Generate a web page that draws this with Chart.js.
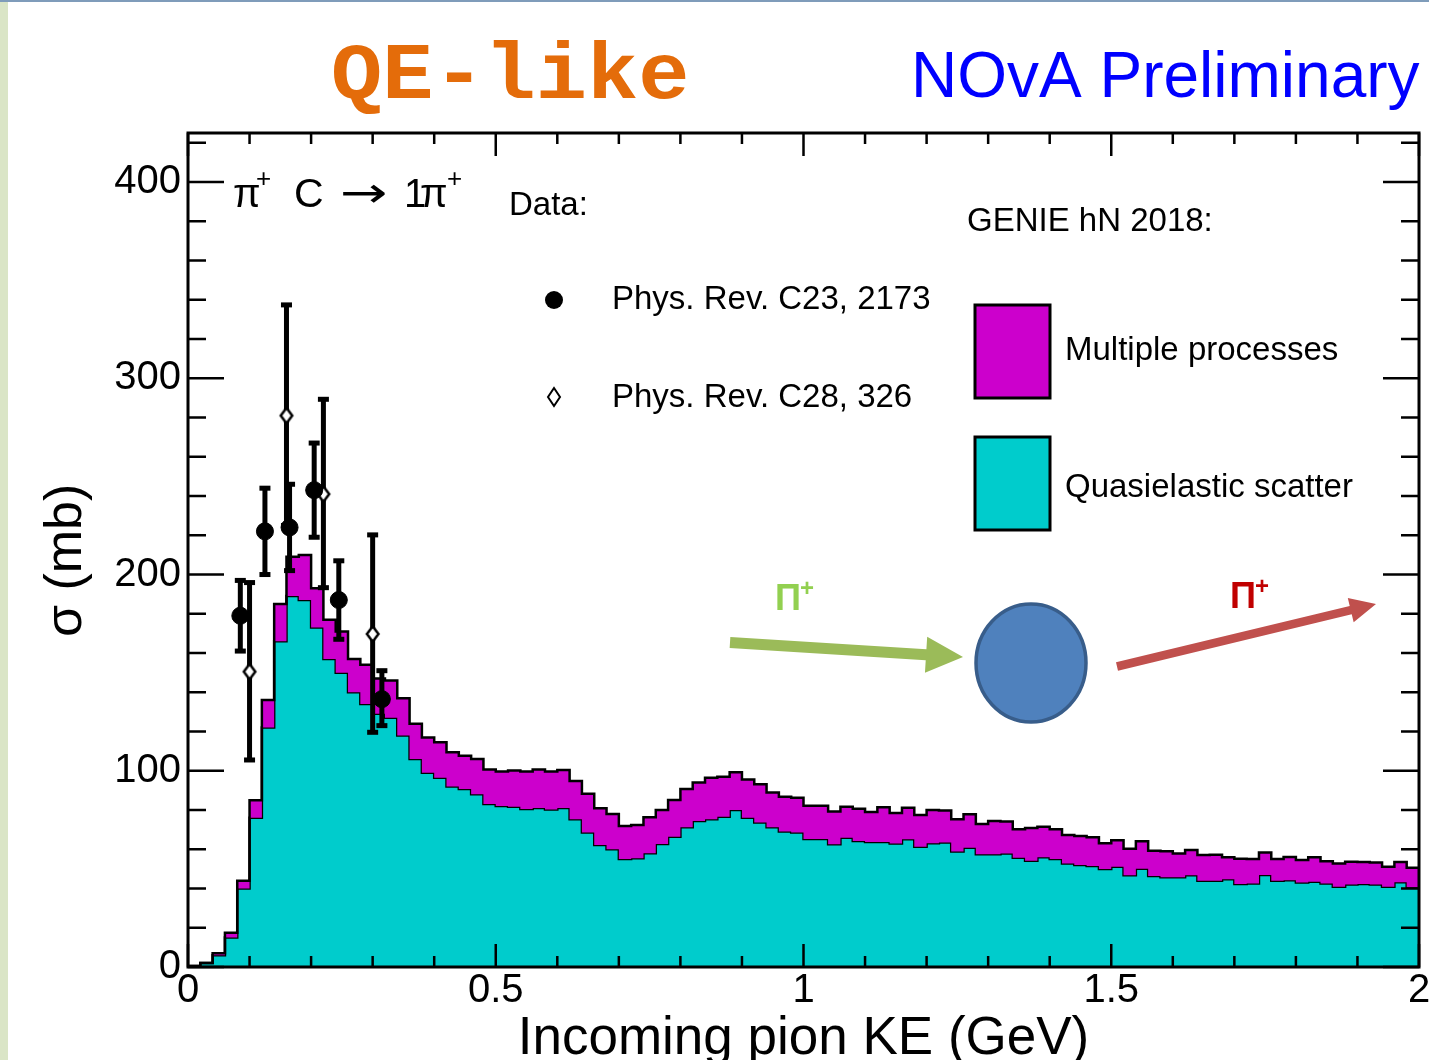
<!DOCTYPE html>
<html>
<head>
<meta charset="utf-8">
<script src="https://cdn.jsdelivr.net/npm/chart.js@4.4.0/dist/chart.umd.min.js"></script>
<style>
html,body{margin:0;padding:0;background:#fff;overflow:hidden}
#wrap{position:relative;width:1429px;height:1060px}
canvas{display:block}
</style>
</head>
<body>
<div id="wrap"><canvas id="c" width="1429" height="1060"></canvas></div>
<script>
// ---------------- data ----------------
const binWidth = 0.02;           // GeV, 100 bins from 0 to 2
const xRange = [0, 2];
const yRange = [0, 425];
const xTickLabels = [0, 0.5, 1, 1.5, 2];
const yTickLabels = [0, 100, 200, 300, 400];

// GENIE hN 2018 – quasielastic scatter (cyan), per bin
const qeSigma = [
  0.5, 2, 6, 15, 40, 76, 122, 166, 189, 187,
  173, 157, 150, 140, 134, 129, 127, 118, 106, 99,
  96.5, 92, 90.7, 88, 83, 82, 81.7, 80.5, 81, 80.3,
  81, 75.3, 68.5, 62.2, 60, 55, 55.4, 58, 62.7, 66.4,
  71.2, 74.4, 75.3, 76.6, 80, 76.1, 73.6, 71.2, 69, 68.5,
  65.2, 65.2, 62.5, 65.9, 64.2, 63.7, 63.7, 62.9, 65.1, 61.3,
  63.1, 63.4, 58.8, 60.8, 57.4, 57.4, 57.9, 55.7, 54.2, 55.9,
  55, 52.8, 52, 51.5, 49.9, 51.1, 46.7, 50.1, 46.4, 45.7,
  45.7, 46.7, 44, 43.9, 44.7, 42.3, 42.6, 46.9, 43.9, 44.2,
  43, 43.4, 42.6, 40.9, 42.1, 42.3, 42, 40.9, 43.2, 40.6
];
// GENIE hN 2018 – total incl. multiple processes (magenta top), per bin
const totalSigma = [
  0.5, 2, 7, 17.5, 44, 85, 136, 185, 209, 210,
  193, 177, 171, 157, 154, 147, 146, 137, 124, 117,
  114.5, 109.4, 107.7, 106, 100.7, 99.6, 100.1, 99.6, 100.7, 99.6,
  100.4, 94.8, 88.3, 80.9, 78, 71.9, 72.4, 76.3, 80, 85.1,
  90.7, 94, 96.5, 97, 99.2, 95.6, 93.1, 88.9, 86.8, 86.3,
  82.2, 82.2, 79.2, 81.7, 80.7, 79, 81.4, 78.5, 81.2, 77.5,
  80, 79.7, 75.3, 77.8, 72.9, 74.4, 74.1, 70.2, 70.8, 71.5,
  70.2, 67.3, 66.8, 66.1, 63, 64.6, 60.3, 64.1, 59.3, 59,
  57.9, 59.6, 57.1, 57.2, 55.9, 55.2, 55, 58.3, 55, 56.1,
  54.5, 55.9, 53.9, 52.8, 53.6, 53.5, 53.2, 51.1, 53.5, 50.6
];

// Phys. Rev. C23, 2173 (filled circles)
const prc23KE    = [0.085, 0.125, 0.165, 0.205, 0.245, 0.315];
const prc23Sigma = [179, 222, 224, 243, 187, 136.5];
const prc23Lo    = [161, 200, 202, 219, 167, 123];
const prc23Hi    = [197, 244, 246, 267, 207, 151];

// Phys. Rev. C28, 326 (open diamonds)
const prc28KE    = [0.100, 0.160, 0.220, 0.300];
const prc28Sigma = [150.5, 281, 241, 169.7];
const prc28Lo    = [105.5, 225, 193.3, 119.6];
const prc28Hi    = [195.9, 337.4, 289.3, 220.2];

// ---------------- helpers ----------------
const FONT = "'Liberation Sans', Arial, Helvetica, sans-serif";

function histPoints(vals) {
  const pts = vals.map((v, i) => ({x: i * binWidth, y: v}));
  pts.push({x: vals.length * binWidth, y: vals[vals.length - 1]});
  return pts;
}
function pointsOf(xs, ys) { return xs.map((x, i) => ({x: x, y: ys[i]})); }

function makeDiamond(w, h, lw) {
  const c = document.createElement('canvas');
  c.width = w + 4; c.height = h + 4;
  const g = c.getContext('2d');
  const cx = c.width / 2, cy = c.height / 2;
  const hw = w / 2 - lw / 2, hh = h / 2 - lw / 2;
  g.beginPath();
  g.moveTo(cx, cy - hh); g.lineTo(cx + hw, cy); g.lineTo(cx, cy + hh); g.lineTo(cx - hw, cy); g.closePath();
  g.fillStyle = '#fff'; g.fill();
  g.lineWidth = lw; g.strokeStyle = '#000'; g.lineJoin = 'miter'; g.stroke();
  return c;
}
const diamondImg = makeDiamond(14, 18, 2.5);

function arrow(ctx, x1, y1, x2, y2, shaftW, headLen, headW, color) {
  const dx = x2 - x1, dy = y2 - y1, L = Math.hypot(dx, dy);
  const ux = dx / L, uy = dy / L, nx = -uy, ny = ux;
  const bx = x2 - ux * headLen, by = y2 - uy * headLen;
  ctx.save();
  ctx.fillStyle = color;
  ctx.beginPath();
  ctx.moveTo(x1 + nx * shaftW / 2, y1 + ny * shaftW / 2);
  ctx.lineTo(bx + nx * shaftW / 2, by + ny * shaftW / 2);
  ctx.lineTo(bx + nx * headW / 2, by + ny * headW / 2);
  ctx.lineTo(x2, y2);
  ctx.lineTo(bx - nx * headW / 2, by - ny * headW / 2);
  ctx.lineTo(bx - nx * shaftW / 2, by - ny * shaftW / 2);
  ctx.lineTo(x1 - nx * shaftW / 2, y1 - ny * shaftW / 2);
  ctx.closePath();
  ctx.fill();
  ctx.restore();
}
function txt(ctx, s, x, y, size, color, weight, family) {
  ctx.font = (weight || 'normal') + ' ' + size + 'px ' + (family || FONT);
  ctx.fillStyle = color || '#000';
  ctx.textAlign = 'left';
  ctx.textBaseline = 'alphabetic';
  ctx.fillText(s, x, y);
}

// ---------------- plugins ----------------
const background = {
  id: 'background',
  beforeDraw(chart) {
    const ctx = chart.ctx;
    ctx.save();
    ctx.fillStyle = '#ffffff';
    ctx.fillRect(0, 0, chart.width, chart.height);
    ctx.fillStyle = '#dae5c6';
    ctx.fillRect(0, 0, 8, chart.height);
    ctx.fillStyle = '#7f9cba';
    ctx.fillRect(0, 0, chart.width, 2);
    ctx.restore();
  }
};

const errorBars = {
  id: 'errorBars',
  beforeDatasetDraw(chart, args) {
    const ds = chart.data.datasets[args.index];
    if (!ds.errLo) return;
    const ctx = chart.ctx, xs = chart.scales.x, ys = chart.scales.y;
    ctx.save();
    ctx.strokeStyle = '#000';
    ctx.fillStyle = '#000';
    ctx.lineWidth = 5;
    ds.data.forEach((p, i) => {
      const px = xs.getPixelForValue(p.x);
      const yl = ys.getPixelForValue(ds.errLo[i]);
      const yh = ys.getPixelForValue(ds.errHi[i]);
      ctx.beginPath(); ctx.moveTo(px, yl); ctx.lineTo(px, yh); ctx.stroke();
      ctx.fillRect(px - 5.5, yl - 2.5, 11, 5);
      ctx.fillRect(px - 5.5, yh - 2.5, 11, 5);
    });
    ctx.restore();
  }
};

const frame = {
  id: 'frame',
  afterDatasetsDraw(chart) {
    const ctx = chart.ctx, a = chart.chartArea, xs = chart.scales.x, ys = chart.scales.y;
    ctx.save();
    ctx.strokeStyle = '#000';
    ctx.lineCap = 'butt';
    ctx.lineWidth = 2.5;
    ctx.beginPath();
    for (let k = 0; k <= 20; k++) {
      const v = k * 0.1;
      const px = xs.getPixelForValue(v);
      const L = (k % 5 === 0) ? 23 : 11;
      ctx.moveTo(px, a.bottom); ctx.lineTo(px, a.bottom - L);
      ctx.moveTo(px, a.top); ctx.lineTo(px, a.top + L);
    }
    for (let k = 0; k <= 21; k++) {
      const v = k * 20;
      const py = ys.getPixelForValue(v);
      const L = (k % 5 === 0) ? 36 : 18;
      ctx.moveTo(a.left, py); ctx.lineTo(a.left + L, py);
      ctx.moveTo(a.right, py); ctx.lineTo(a.right - L, py);
    }
    ctx.stroke();
    ctx.lineWidth = 3;
    ctx.strokeRect(a.left, a.top, a.right - a.left, a.bottom - a.top);
    ctx.restore();
  }
};

const annotations = {
  id: 'annotations',
  afterDraw(chart) {
    const ctx = chart.ctx;
    ctx.save();
    // Titles
    ctx.save();
    ctx.translate(331, 98);
    ctx.scale(1.08, 1);
    txt(ctx, 'QE-like', 0, 0, 79, '#e46c0a', 'bold', "'Liberation Mono', 'Courier New', monospace");
    ctx.restore();
    txt(ctx, 'NOvA Preliminary', 911, 97, 64, '#0000ff');

    // Reaction label
    txt(ctx, 'π', 233, 207, 40);
    txt(ctx, '+', 256, 187, 26);
    txt(ctx, 'C', 294, 207, 41);
    ctx.save();
    ctx.translate(340, 207);
    ctx.scale(1.35, 1);
    txt(ctx, '→', 0, 0, 42, '#000', 'normal', "'DejaVu Sans', sans-serif");
    ctx.restore();
    txt(ctx, '1', 404, 207, 40);
    txt(ctx, 'π', 420, 207, 40);
    txt(ctx, '+', 447, 187, 26);

    // Data legend
    txt(ctx, 'Data:', 509, 215, 33);
    ctx.beginPath(); ctx.arc(554, 300, 9, 0, Math.PI * 2); ctx.fillStyle = '#000'; ctx.fill();
    txt(ctx, 'Phys. Rev. C23, 2173', 612, 309, 33);
    ctx.beginPath();
    ctx.moveTo(554, 388); ctx.lineTo(560, 397); ctx.lineTo(554, 406); ctx.lineTo(548, 397); ctx.closePath();
    ctx.fillStyle = '#fff'; ctx.fill(); ctx.lineWidth = 2; ctx.strokeStyle = '#000'; ctx.stroke();
    txt(ctx, 'Phys. Rev. C28, 326', 612, 407, 33);

    // GENIE legend
    txt(ctx, 'GENIE hN 2018:', 967, 231, 33);
    ctx.lineWidth = 3; ctx.strokeStyle = '#000';
    ctx.fillStyle = '#cc00cc'; ctx.fillRect(975, 305, 75, 93); ctx.strokeRect(975, 305, 75, 93);
    ctx.fillStyle = '#00cccc'; ctx.fillRect(975, 437, 75, 93); ctx.strokeRect(975, 437, 75, 93);
    txt(ctx, 'Multiple processes', 1065, 360, 33);
    txt(ctx, 'Quasielastic scatter', 1065, 497, 33);

    // Scattering cartoon
    arrow(ctx, 730, 642.5, 963, 657, 11, 37, 36, '#9bbb59');
    ctx.beginPath(); ctx.ellipse(1031, 663, 55, 59, 0, 0, Math.PI * 2);
    ctx.fillStyle = '#4f81bd'; ctx.fill(); ctx.lineWidth = 3.5; ctx.strokeStyle = '#385d8a'; ctx.stroke();
    arrow(ctx, 1117, 666.5, 1376, 604, 8.5, 26, 25, '#c0504d');
    txt(ctx, 'Π', 775, 610, 36, '#92d050', 'bold');
    txt(ctx, '+', 800, 596, 24, '#92d050', 'bold');
    txt(ctx, 'Π', 1230, 608, 36, '#c00000', 'bold');
    txt(ctx, '+', 1255, 594, 24, '#c00000', 'bold');
    ctx.restore();
  }
};

// ---------------- chart ----------------
const ctx = document.getElementById('c').getContext('2d');
new Chart(ctx, {
  type: 'line',
  data: {
    datasets: [
      {
        label: 'Quasielastic scatter',
        data: histPoints(qeSigma),
        stepped: 'before',
        borderColor: '#000', borderWidth: 2.5,
        backgroundColor: '#00cccc',
        fill: 'origin',
        pointRadius: 0,
        order: 3
      },
      {
        label: 'Multiple processes',
        data: histPoints(totalSigma),
        stepped: 'before',
        borderColor: '#000', borderWidth: 2.5,
        backgroundColor: '#cc00cc',
        fill: 0,
        pointRadius: 0,
        order: 2
      },
      {
        label: 'Phys. Rev. C28, 326',
        data: pointsOf(prc28KE, prc28Sigma),
        errLo: prc28Lo, errHi: prc28Hi,
        showLine: false,
        pointStyle: diamondImg,
        pointRadius: 8,
        order: 1
      },
      {
        label: 'Phys. Rev. C23, 2173',
        data: pointsOf(prc23KE, prc23Sigma),
        errLo: prc23Lo, errHi: prc23Hi,
        showLine: false,
        pointStyle: 'circle',
        pointRadius: 8.5,
        pointBorderWidth: 1,
        pointBackgroundColor: '#000',
        pointBorderColor: '#000',
        order: 0
      }
    ]
  },
  options: {
    responsive: false,
    devicePixelRatio: 1,
    animation: false,
    events: [],
    layout: {padding: {left: 0, right: 10, top: 133, bottom: 0}},
    plugins: {legend: {display: false}, tooltip: {enabled: false}, title: {display: false}},
    scales: {
      x: {
        type: 'linear',
        min: xRange[0], max: xRange[1],
        grid: {display: false, drawTicks: false},
        border: {display: false},
        afterBuildTicks: s => { s.ticks = xTickLabels.map(v => ({value: v})); },
        afterFit: s => { s.height = 93; s.paddingLeft = 0; s.paddingRight = 0; },
        ticks: {
          autoSkip: false, maxRotation: 0, padding: 0,
          color: '#000', font: {family: FONT, size: 40},
          callback: v => String(v)
        },
        title: {
          display: true, text: 'Incoming pion KE (GeV)', color: '#000',
          font: {family: FONT, size: 53}, padding: {top: 0, bottom: -11}
        }
      },
      y: {
        type: 'linear',
        min: yRange[0], max: yRange[1],
        grid: {display: false, drawTicks: false},
        border: {display: false},
        afterBuildTicks: s => { s.ticks = yTickLabels.map(v => ({value: v})); },
        afterFit: s => { s.width = 188; s.paddingTop = 0; s.paddingBottom = 0; },
        ticks: {
          autoSkip: false, padding: 7,
          color: '#000', font: {family: FONT, size: 40},
          callback: v => String(v)
        },
        title: {
          display: true, text: 'σ (mb)\u2009\u2009', color: '#000',
          font: {family: FONT, size: 52}, padding: {top: 35, bottom: 0}
        }
      }
    }
  },
  plugins: [background, errorBars, frame, annotations]
});
</script>
</body>
</html>
